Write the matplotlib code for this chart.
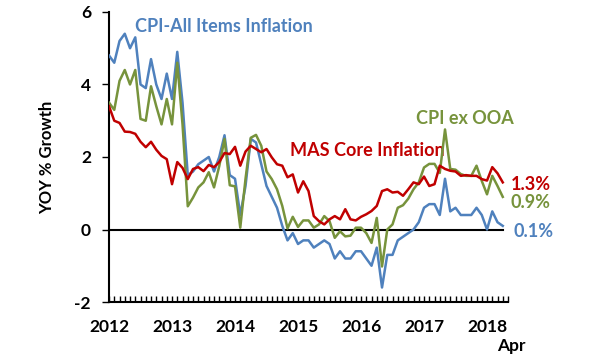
import matplotlib
matplotlib.use("Agg")
import matplotlib.pyplot as plt
import numpy as np

# Monthly data Jan 2012 - Apr 2018
cpi_all = [4.8, 4.6, 5.2, 5.4, 5.0, 5.3, 4.0, 3.9, 4.7, 4.0, 3.6, 4.3,
           3.6, 4.9, 3.5, 1.5, 1.6, 1.8, 1.9, 2.0, 1.6, 2.0, 2.6, 1.5,
           1.4, 0.4, 1.2, 2.5, 2.4, 1.8, 1.2, 0.9, 0.6, 0.1, -0.3, -0.1,
           -0.4, -0.3, -0.3, -0.5, -0.4, -0.3, -0.4, -0.8, -0.6, -0.8, -0.8, -0.6,
           -0.6, -0.8, -1.0, -0.5, -1.6, -0.7, -0.7, -0.3, -0.2, -0.1, 0.0, 0.2,
           0.6, 0.7, 0.7, 0.4, 1.4, 0.5, 0.6, 0.4, 0.4, 0.4, 0.6, 0.4,
           0.0, 0.5, 0.2, 0.1]

cpi_ex_ooa = [3.5, 3.3, 4.1, 4.4, 4.0, 4.4, 3.05, 3.0, 3.95, 3.4, 2.9, 3.6,
              2.9, 4.6, 2.9, 0.64, 0.88, 1.16, 1.3, 1.58, 1.16, 1.75, 2.5, 1.22,
              1.19, 0.05, 1.4, 2.53, 2.61, 2.31, 1.6, 1.39, 1.11, 0.65, 0.03, 0.35,
              0.07, 0.25, 0.25, 0.05, 0.14, 0.37, 0.23, -0.23, -0.05, -0.19, -0.17, 0.05,
              0.05, -0.1, -0.37, 0.32, -1.02, 0.0, 0.14, 0.6, 0.67, 0.85, 1.11, 1.3,
              1.71, 1.81, 1.81, 1.56, 2.76, 1.67, 1.65, 1.53, 1.48, 1.48, 1.76, 1.34,
              0.97, 1.48, 1.2, 0.9]

mas_core = [3.4, 3.0, 2.94, 2.7, 2.69, 2.64, 2.42, 2.27, 2.42, 2.2, 2.03, 1.94,
            1.25, 1.86, 1.7, 1.39, 1.67, 1.72, 1.61, 1.78, 1.72, 1.86, 2.11, 2.08,
            2.28, 1.76, 2.15, 2.31, 2.22, 2.13, 2.22, 1.99, 1.8, 1.76, 1.44, 1.52,
            1.02, 1.33, 1.06, 0.37, 0.23, 0.14, 0.28, 0.37, 0.28, 0.56, 0.28, 0.25,
            0.35, 0.42, 0.51, 0.65, 1.06, 1.11, 1.02, 1.04, 0.93, 1.11, 1.3, 1.25,
            1.46, 1.2, 1.25, 1.76, 1.67, 1.62, 1.6, 1.48, 1.5, 1.48, 1.48, 1.39,
            1.35, 1.72, 1.55, 1.3]

year_labels = ["2012", "2013", "2014", "2015", "2016", "2017", "2018"]
end_label = "Apr"
y_ticks = [-2, 0, 2, 4, 6]

BLUE = "#4F81BD"
RED = "#C00000"
GREEN = "#77933C"
FONT = "Lato"

fig = plt.figure(figsize=(6, 3.6), dpi=100)
ax = fig.add_axes([0.1817, 0.1611, 0.665, 0.8056])

x = np.arange(len(cpi_all))
ax.plot(x, cpi_all, color=BLUE, lw=1.8, zorder=3)
ax.plot(x, cpi_ex_ooa, color=GREEN, lw=1.8, zorder=4)
ax.plot(x, mas_core, color=RED, lw=1.8, zorder=5)
ax.plot([0, len(x) - 1], [0, 0], color="black", lw=1.5, zorder=2)

ax.set_xlim(0, len(x) - 1 + 0.38)
ax.set_ylim(-2, 6)
ax.set_yticks(y_ticks)
ax.set_yticklabels([str(t) for t in y_ticks], fontfamily=FONT, fontweight="bold", fontsize=12.5)
ax.set_xticks(np.arange(0, len(x), 12))
ax.set_xticklabels(year_labels, fontfamily=FONT, fontweight="bold", fontsize=12.5)
ax.set_xticks(np.arange(0, len(x) + 1), minor=True)
ax.tick_params(axis="x", which="both", direction="in", length=4, width=1, pad=12)
ax.tick_params(axis="y", direction="out", length=5, width=1, pad=8)

for s in ["top", "right"]:
    ax.spines[s].set_visible(False)
for s in ["left", "bottom"]:
    ax.spines[s].set_linewidth(1.5)

ax.set_ylabel("YOY % Growth", fontfamily=FONT, fontweight="bold", fontsize=12, labelpad=14)

ax.text(4.9, 5.6, "CPI-All Items Inflation", color=BLUE, fontfamily=FONT, fontweight="bold",
        fontsize=13, ha="left", va="center")
ax.text(34.4, 2.17, "MAS Core Inflation", color=RED, fontfamily=FONT, fontweight="bold",
        fontsize=13, ha="left", va="center")
ax.text(58.4, 3.05, "CPI ex OOA", color=GREEN, fontfamily=FONT, fontweight="bold",
        fontsize=13, ha="left", va="center")

ax.text(76.5, mas_core[-1] - 0.05, "%.1f%%" % mas_core[-1], color=RED, fontfamily=FONT,
        fontweight="bold", fontsize=13, ha="left", va="center", clip_on=False)
ax.text(76.5, cpi_ex_ooa[-1] - 0.15, "%.1f%%" % cpi_ex_ooa[-1], color=GREEN, fontfamily=FONT,
        fontweight="bold", fontsize=13, ha="left", va="center", clip_on=False)
ax.text(77.0, cpi_all[-1] - 0.15, "%.1f%%" % cpi_all[-1], color=BLUE, fontfamily=FONT,
        fontweight="bold", fontsize=13, ha="left", va="center", clip_on=False)

ax.annotate(end_label, xy=(len(x) - 1, 0), xycoords=("data", "axes fraction"), xytext=(6.5, -32),
            textcoords="offset points", fontfamily=FONT, fontweight="bold", fontsize=12.5,
            ha="center", va="center", annotation_clip=False)

fig.savefig("out.png", dpi=100)
